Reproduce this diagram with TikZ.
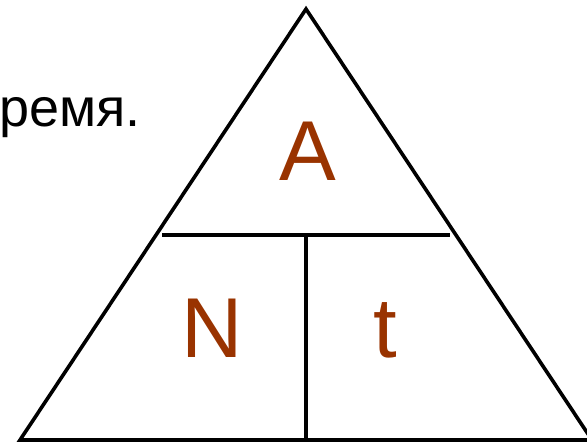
\documentclass[tikz,border=0pt]{standalone}
\usepackage{fontspec}
\setmainfont{Liberation Sans}
\definecolor{brownletter}{HTML}{993300}
\begin{document}
\begin{tikzpicture}[x=1pt,y=-1pt,
  edge/.style={line width=3.6pt, line join=miter},
  letter/.style={text=brownletter, font=\fontsize{85}{85}\selectfont, anchor=base, inner sep=0pt},
  caption/.style={font=\fontsize{54}{54}\selectfont, anchor=base west, inner sep=0pt}]
\useasboundingbox (0,0) rectangle (587,442);
\coordinate (apex) at (306,9);
\coordinate (bl) at (20,440);
\coordinate (br) at (592,440);
\coordinate (hl) at (162,235);
\coordinate (hr) at (450,235);
\coordinate (vt) at (306,235);
\coordinate (vb) at (306,440);
\draw[edge] (bl) -- (apex) -- (br) -- cycle;
\draw[edge] (hl) -- (hr);
\draw[edge] (vt) -- (vb);
\node[caption] (cap) at (-1,126) {ремя.};
\node[letter] (A) at (308,180) {A};
\node[letter] (N) at (212,357) {N};
\node[letter] (t) at (385,357) {t};
\end{tikzpicture}
\end{document}
